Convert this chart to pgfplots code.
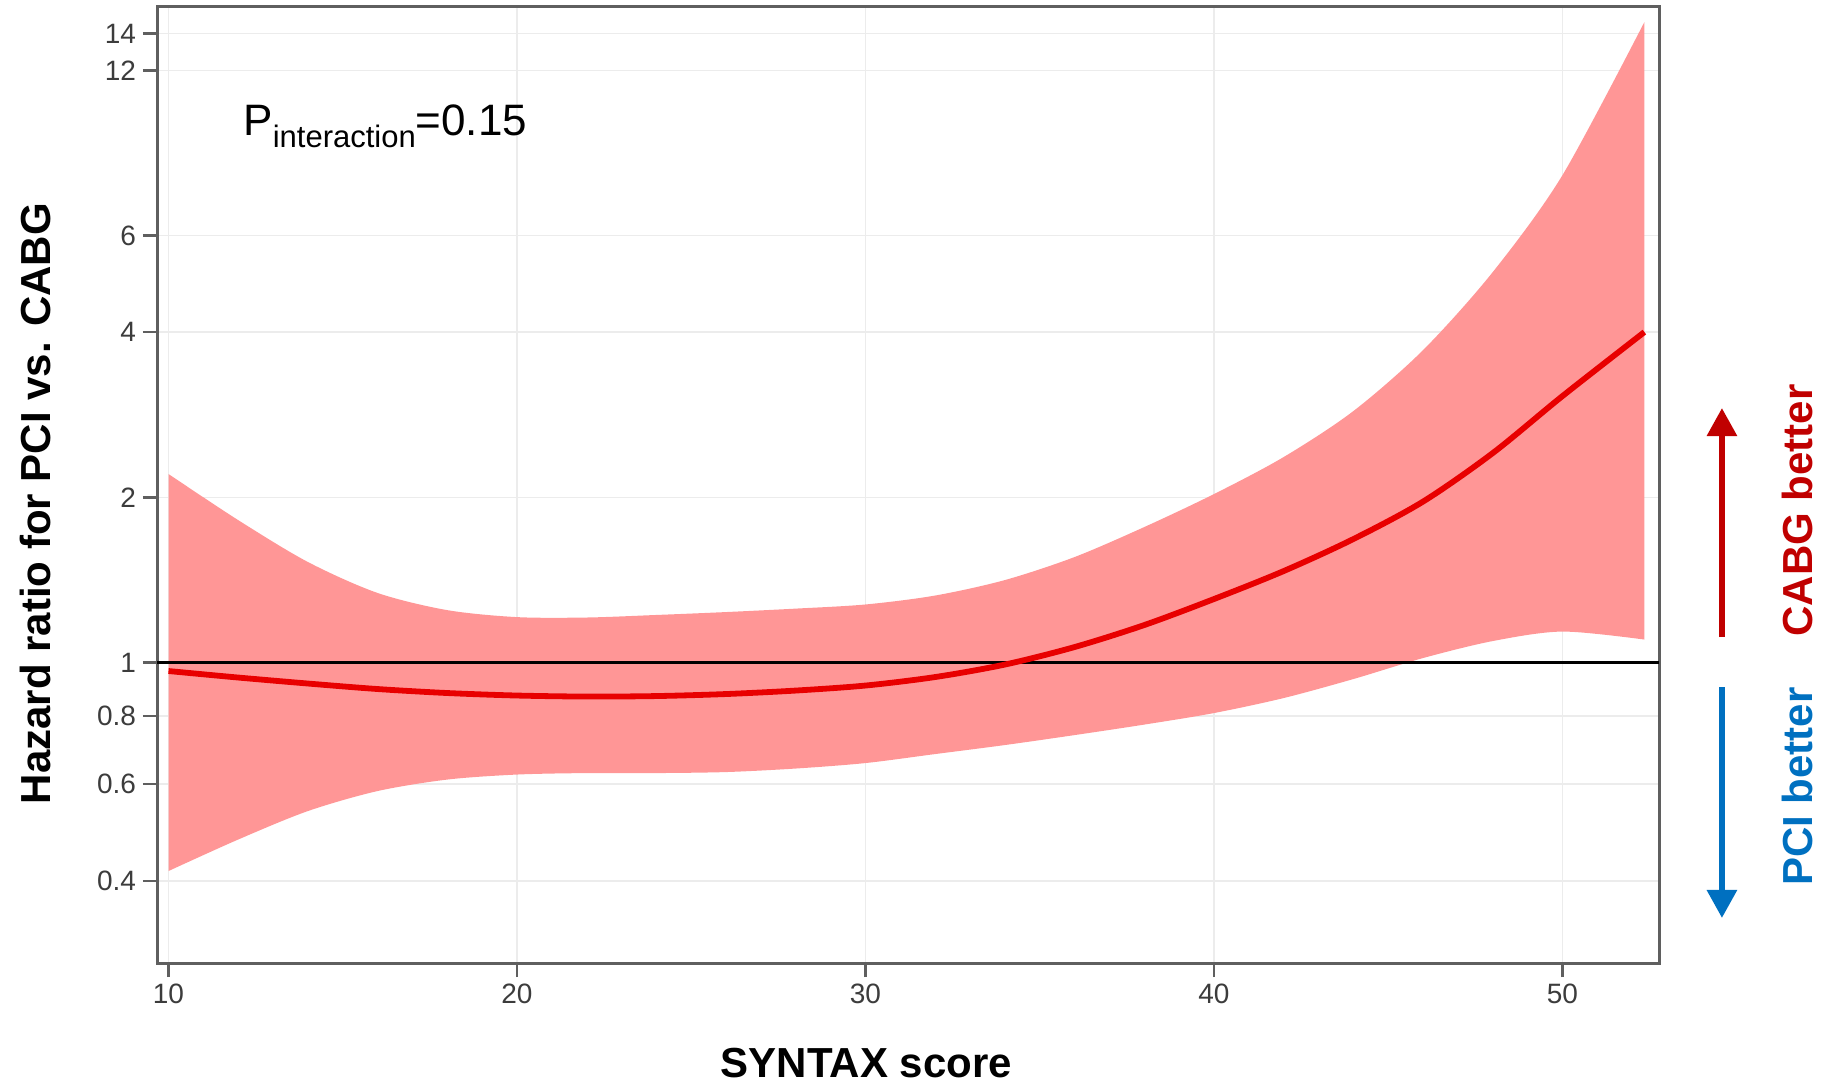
\documentclass[border=0pt]{standalone}
\usepackage{fontspec}
\setmainfont{Liberation Sans}
\usepackage{pgfplots}
\pgfplotsset{compat=1.18}
\usepgfplotslibrary{fillbetween}
\usetikzlibrary{arrows.meta}
\definecolor{bandred}{RGB}{255,150,150}
\definecolor{linered}{RGB}{232,0,0}
\definecolor{axgray}{RGB}{95,95,95}
\definecolor{gridgray}{RGB}{236,236,236}
\definecolor{tickgray}{RGB}{60,60,60}
\definecolor{cabgred}{RGB}{192,0,0}
\definecolor{pciblue}{RGB}{0,112,192}
\begin{document}
\begin{tikzpicture}
\begin{axis}[
  name=ax,
  scale only axis,
  width=751pt, height=478pt,
  xmin=9.67, xmax=52.77,
  ymode=log, ymin=0.2834, ymax=15.66,
  xtick={10,20,30,40,50},
  ytick={0.4,0.6,0.8,1,2,4,6,12,14},
  yticklabels={0.4,0.6,0.8,1,2,4,6,12,14},
  minor ytick={},
  tick align=outside,
  xtick pos=left, ytick pos=left,
  major tick length=7pt,
  tick style={axgray, line width=1.2pt},
  axis line style={axgray, line width=1.5pt},
  grid=major,
  grid style={gridgray, line width=0.8pt},
  ticklabel style={font=\fontsize{14}{15}\selectfont, text=tickgray},
  /pgf/number format/assume math mode=true,
  xlabel={SYNTAX score},
  ylabel={Hazard ratio for PCI vs. CABG},
  label style={font=\fontsize{21}{24}\selectfont\bfseries},
  xlabel style={at={(axis description cs:0.4723,-0.1046)}, anchor=center},
  ylabel style={at={(axis description cs:-0.0812,0.4805)}, anchor=center},
  clip=false,
]
\addplot[name path=upper, draw=none, smooth] coordinates {
(10,2.206) (12,1.818) (14,1.525) (16,1.339) (18,1.246) (20,1.210) (22,1.208)
(24,1.221) (26,1.236) (28,1.254) (30,1.276) (32,1.3247) (34,1.4137) (36,1.557)
(38,1.766) (40,2.028) (42,2.369) (44,2.873) (46,3.711) (48,5.149) (50,7.734)
(52.35,14.70)
};
\addplot[name path=lower, draw=none, smooth] coordinates {
(10,0.4169) (12,0.4758) (14,0.5362) (16,0.5832) (18,0.6120) (20,0.6250)
(22,0.6289) (24,0.6289) (26,0.6316) (28,0.6410) (30,0.6559) (32,0.6811)
(34,0.7074) (36,0.7376) (38,0.7709) (40,0.8090) (42,0.8616) (44,0.9331)
(46,1.0191) (48,1.0944) (50,1.1389) (52.35,1.1013)
};
\addplot[bandred] fill between[of=upper and lower];
\addplot[black, line width=1.2pt] coordinates {(9.67,1) (52.77,1)};
\addplot[linered, line width=2.9pt, smooth] coordinates {
(10,0.9650) (12,0.9390) (14,0.9157) (16,0.8948) (18,0.8799) (20,0.8707)
(22,0.8670) (24,0.8688) (26,0.8762) (28,0.8891) (30,0.9080) (32,0.9410)
(34,0.9916) (36,1.0672) (38,1.1704) (40,1.3054) (42,1.4681) (44,1.6792)
(46,1.9653) (48,2.4088) (50,3.0597) (52.35,4.0024)
};
\node[anchor=base west, inner sep=0pt, font=\fontsize{22}{26}\selectfont]
  at (axis description cs:0.0573,0.866)
  {P\raisebox{-6pt}{\fontsize{15.5}{18}\selectfont interaction}=0.15};
\draw[cabgred, line width=3pt, -{Triangle[width=14.5pt,length=14pt]}]
  (axis description cs:1.0419,0.341) -- (axis description cs:1.0419,0.5805);
\draw[pciblue, line width=3pt, -{Triangle[width=14.5pt,length=14pt]}]
  (axis description cs:1.0419,0.2887) -- (axis description cs:1.0419,0.0471);
\node[rotate=90, anchor=west, inner sep=0pt, text=cabgred, font=\fontsize{21}{24}\selectfont\bfseries]
  at (axis description cs:1.0919,0.341) {CABG better};
\node[rotate=90, anchor=east, inner sep=0pt, text=pciblue, font=\fontsize{21}{24}\selectfont\bfseries]
  at (axis description cs:1.0919,0.2887) {PCI better};
\end{axis}
\pgfresetboundingbox
\path[use as bounding box] ([xshift=-78.5pt,yshift=-60.5pt]ax.south west) rectangle ([xshift=83.5pt,yshift=3.5pt]ax.north east);
\end{tikzpicture}
\end{document}
